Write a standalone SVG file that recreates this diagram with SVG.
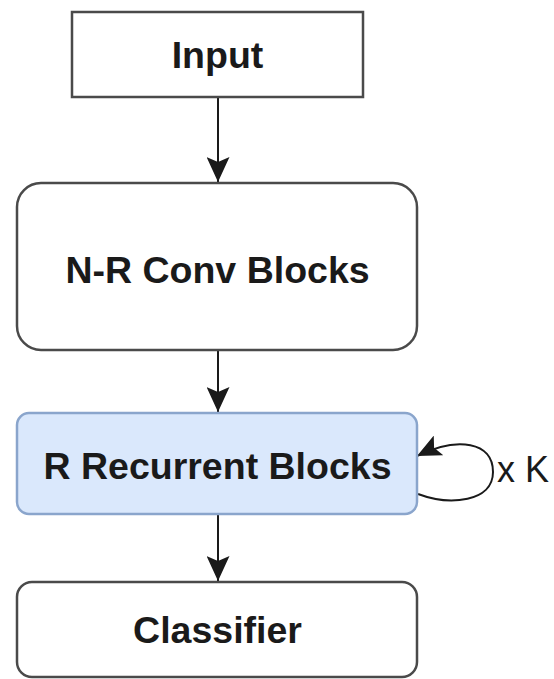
<svg xmlns="http://www.w3.org/2000/svg" width="554" height="679" viewBox="0 0 554 679">
  <style>
    .box { fill: #ffffff; stroke: #4a4a4a; stroke-width: 2.5; }
    .blue { fill: #dae8fc; stroke: #8aa5cc; stroke-width: 2.5; }
    .lbl { font-family: "Liberation Sans", Arial, Helvetica, sans-serif; font-weight: bold; font-size: 37.5px; fill: #1a1a1a; text-anchor: middle; }
    .note { font-family: "Liberation Sans", Arial, Helvetica, sans-serif; font-size: 36px; fill: #1a1a1a; }
    .edge { fill: none; stroke: #1a1a1a; stroke-width: 2; }
  </style>
  <defs>
    <marker id="arrow" viewBox="0 0 25 23" refX="25" refY="11.5" markerWidth="25" markerHeight="23" markerUnits="userSpaceOnUse" orient="auto">
      <path d="M0,0 L25,11.5 L0,23 L5,11.5 z" fill="#1a1a1a"/>
    </marker>
    <marker id="arrowSmall" viewBox="0 0 24 22" refX="24" refY="11" markerWidth="24" markerHeight="22" markerUnits="userSpaceOnUse" orient="auto">
      <path d="M0,0 L24,11 L0,22 L5,11 z" fill="#1a1a1a"/>
    </marker>
  </defs>

  <rect width="554" height="679" fill="#ffffff"/>

  <g id="connectors">
    <path class="edge" d="M218,97 L218,182" marker-end="url(#arrow)"/>
    <path class="edge" d="M218,350 L218,412" marker-end="url(#arrow)"/>
    <path class="edge" d="M218,514 L218,581" marker-end="url(#arrow)"/>
    <!-- repeat loop on the recurrent block -->
    <path class="edge" d="M418,494 C450,506 493,502 493,472 C493,442 458,436 417,456" marker-end="url(#arrowSmall)"/>
  </g>

  <g id="input">
    <rect class="box" x="72" y="12" width="291" height="85" stroke-width="3"/>
    <text class="lbl" x="217.5" y="68">Input</text>
  </g>

  <g id="conv">
    <rect class="box" x="17" y="183" width="400" height="167" rx="24" ry="24"/>
    <text class="lbl" x="217.5" y="283">N-R Conv Blocks</text>
  </g>

  <g id="recurrent">
    <rect class="blue" x="17" y="413" width="400" height="101" rx="12" ry="12"/>
    <text class="lbl" x="217.5" y="479">R Recurrent Blocks</text>
  </g>

  <g id="loop-label">
    <text class="note" x="497" y="482">x K</text>
  </g>

  <g id="classifier">
    <rect class="box" x="17" y="582" width="400" height="95" rx="15" ry="15"/>
    <text class="lbl" x="217.5" y="643">Classifier</text>
  </g>
</svg>
